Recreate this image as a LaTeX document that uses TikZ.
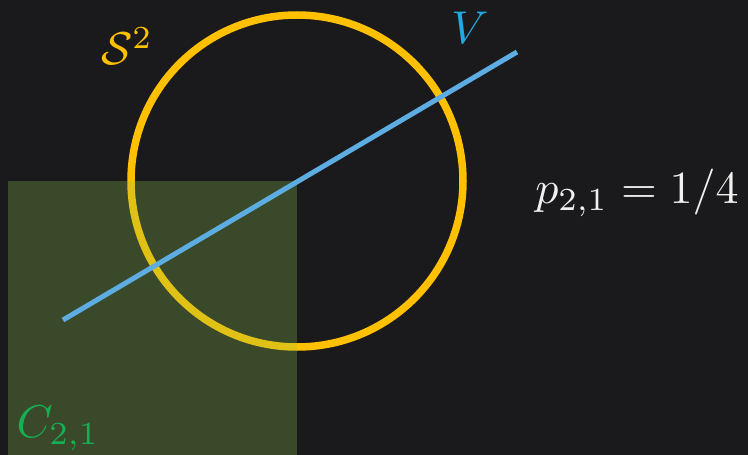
\documentclass[tikz,border=0pt]{standalone}
\usepackage{amsmath}
\definecolor{bgc}{RGB}{26,26,28}
\definecolor{sphc}{RGB}{255,192,0}
\definecolor{linec}{RGB}{93,173,226}
\definecolor{vlab}{RGB}{35,168,225}
\definecolor{rectc}{RGB}{144,197,78}
\definecolor{clab}{RGB}{22,176,84}
\definecolor{txtc}{RGB}{240,240,240}
\newcommand{\mylab}[1]{\scalebox{4.6}{#1}}
\tikzset{
  lab/.style={inner sep=0pt},
  sphere/.style={draw=sphc, line width=7.5pt},
  subsp/.style={draw=linec, line width=5pt},
  cell/.style={fill=rectc, fill opacity=0.28},
}
\begin{document}
\begin{tikzpicture}[x=1pt,y=-1pt]
\fill[bgc] (0,0) rectangle (748,455);
\useasboundingbox (0,0) rectangle (748,455);
\coordinate (O) at (297,181);
\draw[sphere] (O) circle[radius=166];
\path[cell] (8,181) rectangle (297,460);
\coordinate (A) at (63,320);
\coordinate (B) at (517,52);
\draw[subsp] (A) -- (B);
\node[lab, text=sphc] (s2) at (127,46) {\mylab{$\mathcal{S}^2$}};
\node[lab, text=vlab] (v) at (470,28) {\mylab{$V$}};
\node[lab, text=txtc] (p) at (637,193) {\mylab{$p_{2,1} = 1/4$}};
\node[lab, text=clab] (c) at (58,428) {\mylab{$C_{2,1}$}};
\end{tikzpicture}
\end{document}
